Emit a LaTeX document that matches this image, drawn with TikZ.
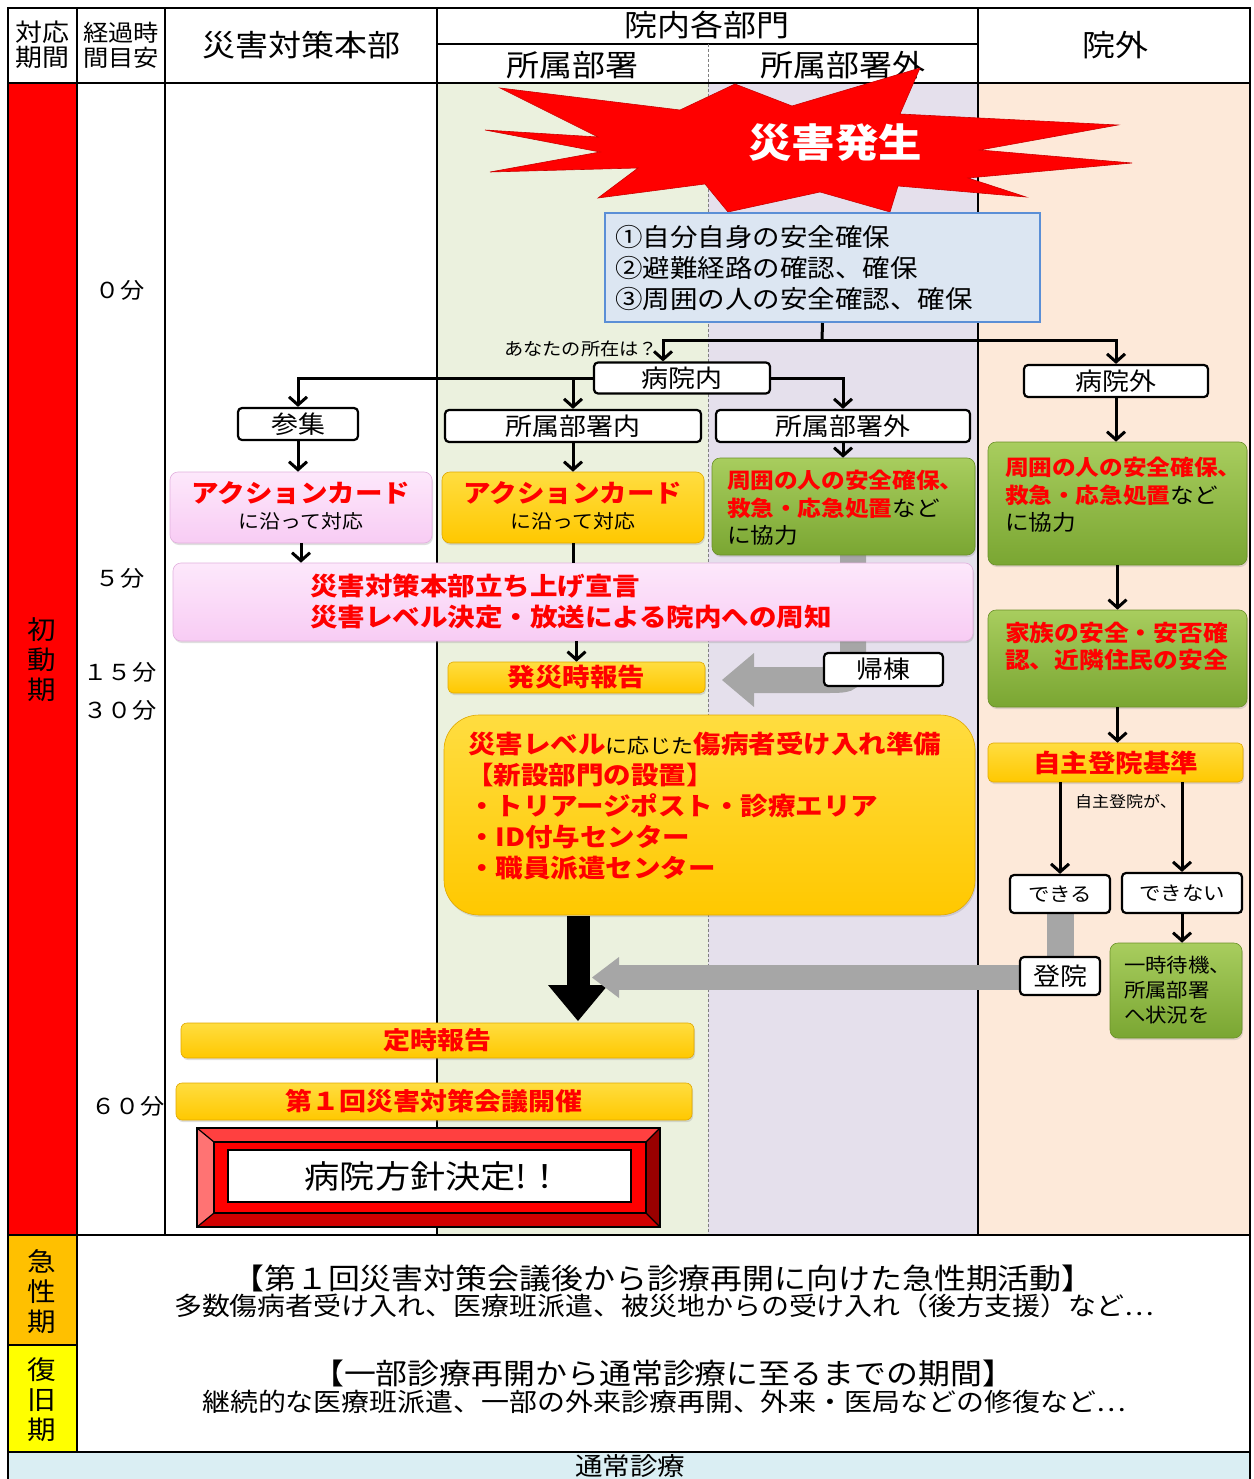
\documentclass[tikz,border=0pt]{standalone}
\usepackage{fontspec}
\setmainfont{Noto Sans CJK JP}[FakeStretch=1.1]
\usetikzlibrary{arrows.meta,shadows}
\newcommand\FS[2]{\fontsize{#1}{#2}\selectfont}
\definecolor{cGreenBg}{HTML}{EBF1DE}
\definecolor{cLavBg}{HTML}{E5E0EC}
\definecolor{cPeachBg}{HTML}{FDE9D9}
\definecolor{cYel}{HTML}{FFC800}
\definecolor{cYelTop}{HTML}{FFDD40}
\definecolor{cYelEdge}{HTML}{E0A800}
\definecolor{cPink}{HTML}{F8CCF4}
\definecolor{cPinkTop}{HTML}{FDE8FB}
\definecolor{cPinkEdge}{HTML}{E2B0DE}
\definecolor{cGrnTop}{HTML}{A8CD5E}
\definecolor{cGrnBot}{HTML}{7AA632}
\definecolor{cGrnEdge}{HTML}{6A9028}
\definecolor{cGray}{HTML}{A6A6A6}
\definecolor{cBlueFill}{HTML}{DCE6F2}
\definecolor{cBlueLine}{HTML}{5B8FD6}
\definecolor{cOrange}{HTML}{FFC000}
\definecolor{cYellow}{HTML}{FFFF00}
\definecolor{cLightBlue}{HTML}{DAEEF3}
\begin{document}
\begin{tikzpicture}[x=1pt,y=-1pt,
  grid/.style={line width=2.5pt,black},
  txt/.style={inner sep=0pt,outer sep=0pt},
  lbl/.style={draw,line width=2.2pt,fill=white,rounded corners=4pt,inner sep=0pt,font=\FS{24.5}{26}},
  arr/.style={line width=3pt,-{Straight Barb[length=8pt,width=18pt]}},
  link/.style={line width=3pt},
  card/.style={rounded corners=8pt,inner sep=0pt,line width=0.6pt,drop shadow={opacity=0.25,shadow xshift=1pt,shadow yshift=-2pt}},
  yel/.style={card,top color=cYelTop,bottom color=cYel,draw=cYelEdge},
  pink/.style={card,top color=cPinkTop,bottom color=cPink,draw=cPinkEdge},
  grn/.style={card,top color=cGrnTop,bottom color=cGrnBot,draw=cGrnEdge},
  rb/.style={txt,text=red,font=\FS{25}{30}\bfseries},
  rbw/.style={rb,anchor=west},
  tw/.style={txt,anchor=west},
]
\clip (0,0) rectangle (1253,1479);
\fill[white] (0,0) rectangle (1253,1479);
% ---------- backgrounds
\fill[red] (8,83) rectangle (77,1235);
\fill[cGreenBg] (437,83) rectangle (708,1235);
\fill[cLavBg] (708,83) rectangle (978,1235);
\fill[cPeachBg] (978,83) rectangle (1250,1235);
\fill[cOrange] (8,1235) rectangle (77,1345);
\fill[cYellow] (8,1345) rectangle (77,1452);
\fill[cLightBlue] (8,1452) rectangle (1250,1495);

% ---------- gray arrows (behind)
\coordinate (kitoA) at (853,548);
\coordinate (kitoB) at (752,680);
\draw[cGray,line width=26pt] (kitoA) -- (853,652) .. controls (853,680) .. (825,680) -- (kitoB);
\fill[cGray] (754,653) -- (754,707) -- (722,680) -- cycle;

% ---------- grid
\draw[grid] (8,8) rectangle (1250,1495);
\draw[grid] (8,83) -- (1250,83);
\draw[grid] (437,44) -- (978,44);
\foreach \xx in {77,165,437,978} \draw[grid] (\xx,8) -- (\xx,1235);
\draw[gray,line width=0.8pt,dash pattern=on 3pt off 2pt] (708,44) -- (708,1235);
\draw[grid] (8,1235) -- (1250,1235);
\draw[grid] (8,1345) -- (77,1345);
\draw[grid] (77,1235) -- (77,1452);
\draw[grid] (8,1452) -- (1250,1452);

% ---------- header
\node[txt,font=\FS{24.5}{25},align=center] (hA) at (42,45) {対応\\期間};
\node[txt,font=\FS{23}{25},align=center] (hB) at (121,45) {経過時\\間目安};
\node[txt,font=\FS{30}{32}] (hC) at (301,45) {災害対策本部};
\node[txt,font=\FS{30}{32}] (hD) at (707,25) {院内各部門};
\node[txt,font=\FS{30}{32}] (hE) at (572,65) {所属部署};
\node[txt,font=\FS{30}{32}] (hF) at (843,65) {所属部署外};
\node[txt,font=\FS{30}{32}] (hG) at (1115,45) {院外};

% ---------- time column and period labels
\node[txt,font=\FS{22}{24}] (t0) at (120,290) {０分};
\node[txt,font=\FS{22}{24}] (t5) at (120,578) {５分};
\node[txt,font=\FS{22}{24}] (t15) at (120,672) {１５分};
\node[txt,font=\FS{22}{24}] (t30) at (120,710) {３０分};
\node[txt,font=\FS{22}{24}] (t60) at (128,1106) {６０分};
\node[txt,font=\FS{26}{30},align=center] (p1) at (42,660) {初\\動\\期};
\node[txt,font=\FS{26}{30},align=center] (p2) at (42,1292) {急\\性\\期};
\node[txt,font=\FS{26}{30},align=center] (p3) at (42,1400) {復\\旧\\期};

% ---------- star
\fill[red,draw=red!80!black,line width=0.6pt] (485,130) -- (598,137) -- (500,88) -- (680,110) -- (735,84) -- (792,106) -- (920,68) -- (900,114) -- (1118,125) -- (980,150) -- (1132,163) -- (968,178) -- (1026,197) -- (898,186) -- (890,212) -- (820,192) -- (728,212) -- (705,184) -- (598,198) -- (638,168) -- (490,172) -- (600,152) -- cycle;
\node[txt,text=white,font=\FS{39.5}{42}\bfseries] (hassei) at (835,143) {災害発生};

% ---------- first steps
\node[draw=cBlueLine,fill=cBlueFill,line width=2pt,minimum width=435,minimum height=109,inner sep=0pt] (blue) at (822.5,267.5) {};
\node[tw,font=\FS{25}{30}] (b1) at (615,237) {①自分自身の安全確保};
\node[tw,font=\FS{25}{30}] (b2) at (615,268) {②避難経路の確認、確保};
\node[tw,font=\FS{25}{30}] (b3) at (615,299) {③周囲の人の安全確認、確保};

\node[lbl,minimum width=176,minimum height=31] (byoinai) at (682,378) {病院内};
\node[lbl,minimum width=184,minimum height=32] (byoingai) at (1116,381) {病院外};
\node[lbl,minimum width=120,minimum height=32] (sanshu) at (298,424) {参集};
\node[lbl,minimum width=256,minimum height=32] (shnai) at (573,426) {所属部署内};
\node[lbl,minimum width=254,minimum height=32] (shgai) at (843,426) {所属部署外};

\coordinate (split) at (822,340);
\draw[link] (blue.south) -- (split);
\draw[arr] (split) -| ([xshift=-19pt]byoinai.north);
\draw[arr] (split) -| (byoingai.north);
\node[txt,font=\FS{17.5}{20},anchor=east] (where) at (658,349) {あなたの所在は？};
\draw[arr] (byoinai.west) -| (sanshu.north);
\draw[arr] (byoinai.west -| shnai.north) -- (shnai.north);
\draw[arr] (byoinai.east) -| (shgai.north);

% ---------- cards
\node[pink,minimum width=262,minimum height=71] (cardP) at (301,507.5) {};
\node[rb] (cardPa) at (301,493) {アクションカード};
\node[txt,font=\FS{19}{22}] (cardPb) at (301,521) {に沿って対応};
\node[yel,minimum width=262,minimum height=71] (cardY) at (573,507.5) {};
\node[rb] (cardYa) at (573,493) {アクションカード};
\node[txt,font=\FS{19}{22}] (cardYb) at (573,521) {に沿って対応};
\node[grn,minimum width=263,minimum height=97] (cardG) at (843.5,506.5) {};
\node[tw,font=\FS{21.5}{26}] (cardG1) at (727,480) {\bfseries\color{red}周囲の人の安全確保、};
\node[tw,font=\FS{21.5}{26}] (cardG2) at (727,508) {{\bfseries\color{red}救急・応急処置}など};
\node[tw,font=\FS{21.5}{26}] (cardG3) at (727,535) {に協力};
\draw[arr] (sanshu.south) -- (sanshu.south |- cardP.north);
\draw[arr] (shnai.south) -- (shnai.south |- cardY.north);
\draw[arr] (shgai.south) -- (shgai.south |- cardG.north);

\node[pink,minimum width=800,minimum height=78] (pinkBig) at (573,602) {};
\node[rbw] (pb1) at (310,586) {災害対策本部立ち上げ宣言};
\node[rbw] (pb2) at (310,617) {災害レベル決定・放送による院内への周知};
\draw[arr] (cardP.south) -- (cardP.south |- pinkBig.north);
\draw[link] (cardY.south) -- (cardY.south |- pinkBig.north);

\node[yel,rounded corners=5pt,minimum width=257,minimum height=31,text=red,font=\FS{25}{28}\bfseries] (hassai) at (576.5,677.5) {発災時報告};
\draw[arr] (pinkBig.south -| hassai.north) -- (hassai.north);
\node[lbl,minimum width=119,minimum height=33] (kito) at (883.5,669.5) {帰棟};

\node[yel,rounded corners=35pt,minimum width=531,minimum height=200] (bigY) at (709.5,815) {};
\node[tw,font=\FS{25}{30}] (by1) at (468,744) {{\bfseries\color{red}災害レベル}{\FS{20}{24}に応じた}{\bfseries\color{red}傷病者受け入れ準備}};
\node[rbw] (by2) at (466,775) {【新設部門の設置】};
\node[rbw] (by3) at (468,806) {・トリアージポスト・診療エリア};
\node[rbw] (by4) at (468,837) {・ID付与センター};
\node[rbw] (by5) at (468,868) {・職員派遣センター};

% big black arrow
\coordinate (blkA) at (578,916);
\coordinate (blkB) at (578,987);
\draw[line width=23pt] (blkA) -- (blkB);
\fill (548,985) -- (608,985) -- (578,1021) -- cycle;

% ---------- outside hospital
\node[grn,minimum width=259,minimum height=123] (g1) at (1117.5,503.5) {};
\node[tw,font=\FS{21.5}{26}] (g1a) at (1005,467) {\bfseries\color{red}周囲の人の安全確保、};
\node[tw,font=\FS{21.5}{26}] (g1b) at (1005,495) {{\bfseries\color{red}救急・応急処置}など};
\node[tw,font=\FS{21.5}{26}] (g1c) at (1005,522) {に協力};
\draw[arr] (byoingai.south) -- (byoingai.south |- g1.north);
\node[grn,minimum width=259,minimum height=97] (g2) at (1117.5,658.5) {};
\node[tw,font=\FS{22.5}{26}\bfseries,text=red] (g2a) at (1005,633) {家族の安全・安否確};
\node[tw,font=\FS{22.5}{26}\bfseries,text=red] (g2b) at (1005,660) {認、近隣住民の安全};
\draw[arr] (g1.south) -- (g2.north);
\node[yel,rounded corners=5pt,minimum width=255,minimum height=39,text=red,font=\FS{25}{28}\bfseries] (jishu) at (1115.5,762.5) {自主登院基準};
\draw[arr] (g2.south) -- (g2.south |- jishu.north);
\node[tw,font=\FS{15.5}{18}] (jishuga) at (1075,802) {自主登院が、};

% gray return to hospital
\coordinate (toinHead) at (617,977.5);
\draw[cGray,line width=27pt] (1060,912) -- (1060,958);
\draw[cGray,line width=25pt] (1021,977.5) -- (toinHead);
\fill[cGray] (619,957) -- (619,998) -- (592,977.5) -- cycle;

\node[lbl,minimum width=100,minimum height=38,font=\FS{19.5}{22}] (dekiru) at (1060,894) {できる};
\node[lbl,minimum width=120,minimum height=40,font=\FS{19.5}{22}] (dekinai) at (1182,893) {できない};
\node[lbl,minimum width=80,minimum height=38] (toin) at (1060,976) {登院};
\draw[arr] (jishu.south -| dekiru.north) -- (dekiru.north);
\draw[arr] (jishu.south -| dekinai.north) -- (dekinai.north);
\node[grn,minimum width=132,minimum height=95] (gs) at (1176,990.5) {};
\node[tw,font=\FS{19.5}{22}] (gs1) at (1124,965) {一時待機、};
\node[tw,font=\FS{19.5}{22}] (gs2) at (1124,990) {所属部署};
\node[tw,font=\FS{19.5}{22}] (gs3) at (1124,1015) {へ状況を};
\draw[arr] (dekinai.south) -- (dekinai.south |- gs.north);

% ---------- reports
\node[yel,rounded corners=6pt,minimum width=513,minimum height=35,text=red,font=\FS{24.5}{27}\bfseries] (teiji) at (437.5,1040.5) {定時報告};
\node[yel,rounded corners=6pt,minimum width=516,minimum height=37,text=red,font=\FS{24.5}{27}\bfseries] (kaigi) at (434,1101.5) {第１回災害対策会議開催};

% ---------- hospital policy (bevel frame)
\fill[red!75!white] (197,1128) -- (660,1128) -- (646,1142) -- (214,1142) -- cycle;
\fill[red!55!white] (197,1128) -- (214,1142) -- (214,1213) -- (197,1227) -- cycle;
\fill[red!60!black] (660,1128) -- (660,1227) -- (646,1213) -- (646,1142) -- cycle;
\fill[red!82!black] (197,1227) -- (660,1227) -- (646,1213) -- (214,1213) -- cycle;
\fill[red] (214,1142) rectangle (646,1213);
\draw[line width=1.6pt] (214,1142) rectangle (646,1213);
\draw[line width=1.2pt] (197,1128) -- (214,1142) (660,1128) -- (646,1142) (660,1227) -- (646,1213) (197,1227) -- (214,1213);
\node[draw,line width=2.2pt,minimum width=463,minimum height=99,inner sep=0pt] (hoshin) at (428.5,1177.5) {};
\node[draw,line width=1.2pt,fill=white,minimum width=403,minimum height=52,inner sep=0pt,font=\FS{32}{34}] (hoshinT) at (429.5,1176) {\hspace*{8pt}病院方針決定!！};

% ---------- later phases
\node[txt,font=\FS{29}{32}] (bt1) at (663,1278) {【第１回災害対策会議後から診療再開に向けた急性期活動】};
\node[txt,font=\FS{25.4}{28}] (bt2) at (664,1306) {多数傷病者受け入れ、医療班派遣、被災地からの受け入れ（後方支援）など…};
\node[txt,font=\FS{29}{32}] (bt3) at (663,1373) {【一部診療再開から通常診療に至るまでの期間】};
\node[txt,font=\FS{25.4}{28}] (bt4) at (664,1402) {継続的な医療班派遣、一部の外来診療再開、外来・医局などの修復など…};
\node[txt,font=\FS{25}{26}] (bt5) at (630,1466) {通常診療};
\end{tikzpicture}
\end{document}
